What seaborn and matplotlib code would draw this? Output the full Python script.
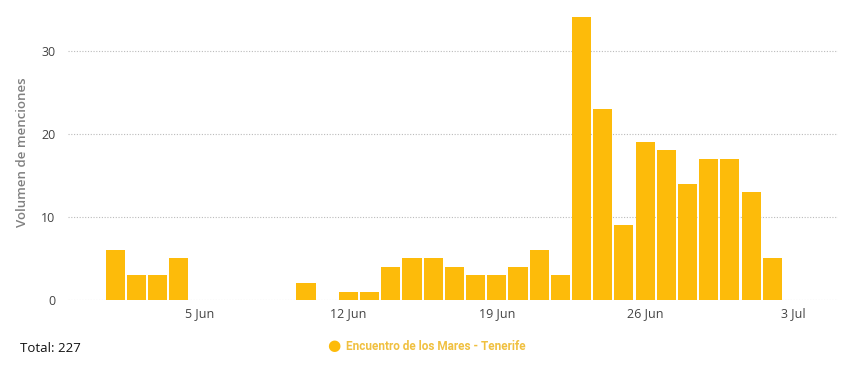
import matplotlib
matplotlib.use("Agg")
import matplotlib.pyplot as plt
import seaborn as sns
import pandas as pd

# Day of month (June; 31+ = July) and mentions
days = list(range(1, 33))
values = [6, 3, 3, 5, 0, 0, 0, 0, 0, 2, 0, 1, 1, 4, 5, 5, 4, 3, 3, 4, 6, 3,
          34, 23, 9, 19, 18, 14, 17, 17, 13, 5]
tick_days = [5, 12, 19, 26, 33]
tick_labels = ["5 Jun", "12 Jun", "19 Jun", "26 Jun", "3 Jul"]
series_name = "Encuentro de los Mares - Tenerife"
total_label = "Total: 227"

sns.set_theme(style="white")
plt.rcParams['font.family'] = ['Open Sans', 'DejaVu Sans']

df = pd.DataFrame({"day": days, "value": values})

fig = plt.figure(figsize=(8.52, 3.67), dpi=100)
ax = fig.add_axes([0.0798, 0.1826, 0.9038, 0.804])

bar_color = "#FDBB0A"
sns.barplot(data=df, x="day", y="value", native_scale=True, color=bar_color,
            saturation=1, width=0.9, ax=ax, linewidth=0, errorbar=None)

ax.set_xlim(-1.23, 35.1)
ax.set_ylim(0, 35.5)
ax.set_yticks([0, 10, 20, 30])
ax.set_xticks(tick_days)
ax.set_xticklabels(tick_labels)
ax.yaxis.grid(True, linestyle=(0, (1, 1.5)), color="#BBBBBB", linewidth=0.8)
ax.set_axisbelow(True)
for s in ax.spines.values():
    s.set_visible(False)
ax.tick_params(axis="both", length=0, labelsize=9, labelcolor="#444444")
ax.tick_params(axis="y", pad=9)
ax.tick_params(axis="x", pad=5)
ax.set_xlabel("")
ax.set_ylabel("Volumen de menciones", fontsize=9.5, color="#808080",
              fontweight="semibold", labelpad=9)

fig.text(20/852, 1 - 349/367, total_label, fontsize=9.5, color="#111111",
         va="center", ha="left")
fig.text(334/852, 1 - 347/367, "\u25CF", fontsize=11, color=bar_color,
         va="center", ha="center")
fig.text(346/852, 1 - 347/367, series_name, fontsize=8.5, color="#F0C040",
         va="center", ha="left", fontweight="bold", family=["Roboto", "DejaVu Sans"])

fig.savefig("out.png", dpi=100)
